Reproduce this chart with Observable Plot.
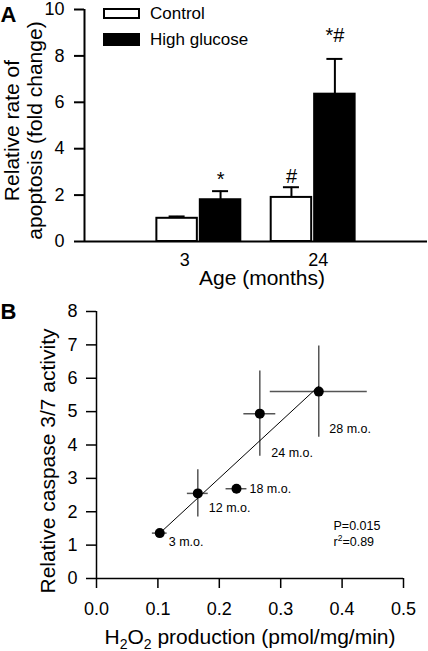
<!DOCTYPE html>
<html>
<head>
<meta charset="utf-8">
<script src="https://cdn.jsdelivr.net/npm/d3@7"></script>
<script src="https://cdn.jsdelivr.net/npm/@observablehq/plot@0.6"></script>
<style>
  html, body { margin: 0; padding: 0; background: #fff; }
  body { font-family: "Liberation Sans", Arial, Helvetica, sans-serif; color: #000; }
  #wrap { position: relative; width: 428px; height: 651px; overflow: hidden; }
  #panelA { position: absolute; left: 0; top: 0; }
  #panelB { position: absolute; left: 0; top: 300px; }
  #panelA svg, #panelB svg { display: block; }
  .legend { position: absolute; left: 103px; top: 0; font-size: 17px; }
  .legend .row { position: absolute; left: 0; display: flex; align-items: center; white-space: nowrap; }
  .legend .sw { display: inline-block; width: 37px; box-sizing: border-box; margin-right: 10px; }
</style>
</head>
<body>
<div id="wrap">
  <div id="panelA"></div>
  <div id="panelB"></div>
  <div class="legend" id="legend"></div>
</div>
<script>
// ---------- Panel A data ----------
const ages = ["3", "24"];
const groups = ["Control", "High glucose"];
const controlMean = [1.0, 1.9];
const controlSem = [0.08, 0.44];
const glucoseMean = [1.8, 6.35];
const glucoseSem = [0.37, 1.52];
const controlNotes = ["", "#"];
const glucoseNotes = ["*", "*#"];
const yTicksA = [0, 2, 4, 6, 8, 10];
const yTitleA = "Relative rate of\napoptosis (fold change)";
const xTitleA = "Age (months)";

// ---------- Panel B data ----------
const ageLabels = ["3 m.o.", "12 m.o.", "18 m.o.", "24 m.o.", "28 m.o."];
const h2o2 = [0.103, 0.165, 0.228, 0.266, 0.362];
const h2o2Err = [0.012, 0.017, 0.017, 0.026, 0.079];
const caspase = [1.36, 2.55, 2.69, 4.94, 5.60];
const caspaseErr = [0.05, 0.71, 0.05, 1.28, 1.37];
const xTicksB = [0, 0.1, 0.2, 0.3, 0.4, 0.5];
const yTicksB = [0, 1, 2, 3, 4, 5, 6, 7, 8];
const statP = "P=0.015";
const statR2 = "r2=0.89";
const yTitleB = "Relative caspase 3/7 activity";
const xTitleB = "H2O2 production (pmol/mg/min)";

const FONT = '"Liberation Sans", Arial, Helvetica, sans-serif';

// ---------- Panel A ----------
const barRows = [];
ages.forEach((age, i) => {
  barRows.push({age, i, g: 0, group: groups[0], mean: controlMean[i], sem: controlSem[i], note: controlNotes[i]});
  barRows.push({age, i, g: 1, group: groups[1], mean: glucoseMean[i], sem: glucoseSem[i], note: glucoseNotes[i]});
});
const barOffset = 0.19, barHalf = 0.177, capHalf = 0.07;
barRows.forEach(d => {
  d.xc = d.i + (d.g === 0 ? -barOffset : barOffset);
  d.top = d.mean + d.sem;
});
const xDomainA = [-1, 2];
const noteLift = {"*": 5, "#": 4, "*#": 17};
const ageTicks = ages.map((a, i) => ({a, i}));
const ageTickNudge = {"3": -14, "24": 5};

const chartA = Plot.plot({
  width: 428, height: 300,
  marginLeft: 84, marginRight: 1, marginTop: 9, marginBottom: 59,
  style: {fontFamily: FONT, fontSize: "18px", color: "#000", background: "#fff", overflow: "visible"},
  x: {domain: xDomainA, axis: null},
  y: {domain: [0, 10], ticks: yTicksA, tickSize: 10, tickPadding: 10, label: null},
  color: {domain: groups, range: ["#fff", "#000"]},
  marks: [
    Plot.rect(barRows, {x1: d => d.xc - barHalf, x2: d => d.xc + barHalf, y1: 0, y2: "mean", fill: "group", stroke: "#000", strokeWidth: 2}),
    Plot.ruleX(barRows, {x: "xc", y1: "mean", y2: "top", stroke: "#000", strokeWidth: 2}),
    Plot.ruleY(barRows, {y: "top", x1: d => d.xc - capHalf, x2: d => d.xc + capHalf, stroke: "#000", strokeWidth: 2}),
    Plot.ruleY([0], {stroke: "#000", strokeWidth: 2}),
    Plot.ruleX([xDomainA[0]], {stroke: "#000", strokeWidth: 2}),
    ...Object.entries(noteLift).map(([note, lift]) =>
      Plot.text(barRows.filter(d => d.note === note), {x: "xc", y: "top", text: "note", lineAnchor: "bottom", dy: -lift, fontSize: 20})
    ),
    ...ageTicks.map(t => Plot.text([t], {x: "i", text: "a", frameAnchor: "bottom", textAnchor: "middle", lineAnchor: "middle", dx: ageTickNudge[t.a], dy: 19, fontSize: 18})),
    Plot.text([yTitleA], {text: d => d, frameAnchor: "left", textAnchor: "middle", lineAnchor: "middle", rotate: -90, dx: -61, dy: 5, fontSize: 21, lineHeight: 1.1}),
    Plot.text([xTitleA], {text: d => d, frameAnchor: "bottom", textAnchor: "middle", lineAnchor: "middle", dx: 6, dy: 37, fontSize: 21}),
    Plot.text(["A"], {text: d => d, frameAnchor: "top-left", textAnchor: "start", lineAnchor: "middle", dx: -84, dy: 5, fontSize: 22, fontWeight: "bold"})
  ]
});
document.getElementById("panelA").appendChild(chartA);

// legend
const legend = d3.select("#legend");
const legendRows = [{top: 8, h: 11}, {top: 33, h: 13}];
groups.forEach((g, i) => {
  const row = legend.append("div").attr("class", "row").style("top", legendRows[i].top + "px").style("height", legendRows[i].h + "px");
  row.append("span").attr("class", "sw")
    .style("height", legendRows[i].h + "px")
    .style("background", i === 0 ? "#fff" : "#000")
    .style("border", "2px solid #000");
  row.append("span").text(g);
});

// ---------- Panel B ----------
const pts = ageLabels.map((label, i) => ({label, x: h2o2[i], xe: h2o2Err[i], y: caspase[i], ye: caspaseErr[i]}));
const labelNudge = {"3 m.o.": [9, 8.5], "12 m.o.": [11, 15], "18 m.o.": [13, 0], "24 m.o.": [11.5, 39.5], "28 m.o.": [10.5, 37.5]};

const chartB = Plot.plot({
  width: 428, height: 351,
  marginLeft: 96, marginRight: 25, marginTop: 11, marginBottom: 73,
  style: {fontFamily: FONT, fontSize: "18px", color: "#000", background: "#fff", overflow: "visible"},
  x: {domain: [0, 0.5], ticks: xTicksB, tickFormat: d3.format(".1f"), tickSize: 10, tickPadding: 14, label: null},
  y: {domain: [0, 8], ticks: yTicksB, tickSize: 10, tickPadding: 9, label: null},
  marks: [
    Plot.ruleY(pts, {y: "y", x1: d => d.x - d.xe, x2: d => d.x + d.xe, stroke: "#555", strokeWidth: 1.5}),
    Plot.ruleX(pts, {x: "x", y1: d => d.y - d.ye, y2: d => d.y + d.ye, stroke: "#555", strokeWidth: 1.5}),
    Plot.linearRegressionY(pts, {x: "x", y: "y", stroke: "#000", strokeWidth: 1, ci: 0}),
    Plot.dot(pts, {x: "x", y: "y", r: 5, fill: "#000", stroke: "none"}),
    ...pts.map(p => Plot.text([p], {x: "x", y: "y", text: "label", textAnchor: "start", dx: labelNudge[p.label][0], dy: labelNudge[p.label][1], fontSize: 12.5})),
    Plot.ruleY([0], {stroke: "#000", strokeWidth: 1.5}),
    Plot.ruleX([0], {stroke: "#000", strokeWidth: 1.5}),
    Plot.text([statP], {text: d => d, frameAnchor: "bottom-right", textAnchor: "start", lineAnchor: "middle", dx: -70, dy: -53, fontSize: 12.5}),
    Plot.text([statR2], {text: d => d, frameAnchor: "bottom-right", textAnchor: "start", lineAnchor: "middle", dx: -70, dy: -37, fontSize: 12.5}),
    Plot.text([yTitleB], {text: d => d, frameAnchor: "left", textAnchor: "middle", lineAnchor: "middle", rotate: -90, dx: -48, dy: 16, fontSize: 21}),
    Plot.text([xTitleB], {text: d => d, frameAnchor: "bottom", textAnchor: "middle", lineAnchor: "middle", dx: 0, dy: 59, fontSize: 21}),
    Plot.text(["B"], {text: d => d, frameAnchor: "top-left", textAnchor: "start", lineAnchor: "middle", dx: -96, dy: 0, fontSize: 22, fontWeight: "bold"})
  ]
});
document.getElementById("panelB").appendChild(chartB);

// ---------- styling of axis ticks ----------
function thickenTicks(svg, w) {
  d3.select(svg).selectAll('g[aria-label^="y-axis"] path, g[aria-label^="y-axis"] line, g[aria-label^="x-axis"] path, g[aria-label^="x-axis"] line')
    .attr("stroke-width", w).style("stroke-width", w + "px");
}
thickenTicks(chartA, 2);
thickenTicks(chartB, 1.5);

// ---------- sub/superscripts ----------
function richText(svg, plain, parts) {
  d3.select(svg).selectAll("text").filter(function () { return this.textContent === plain; }).each(function () {
    const t = d3.select(this);
    t.text(null);
    let shift = 0;
    for (const [s, shiftTo, size] of parts) {
      const sp = t.append("tspan").text(s);
      if (shiftTo !== shift) sp.attr("dy", shiftTo - shift);
      if (size) sp.attr("font-size", size);
      shift = shiftTo;
    }
  });
}
richText(chartB, xTitleB, [["H", 0], ["2", 5, 14], ["O", 0], ["2", 5, 14], [" production (pmol/mg/min)", 0]]);
richText(chartB, statR2, [["r", 0], ["2", -5, 8.5], ["=0.89", 0]]);
</script>
</body>
</html>
